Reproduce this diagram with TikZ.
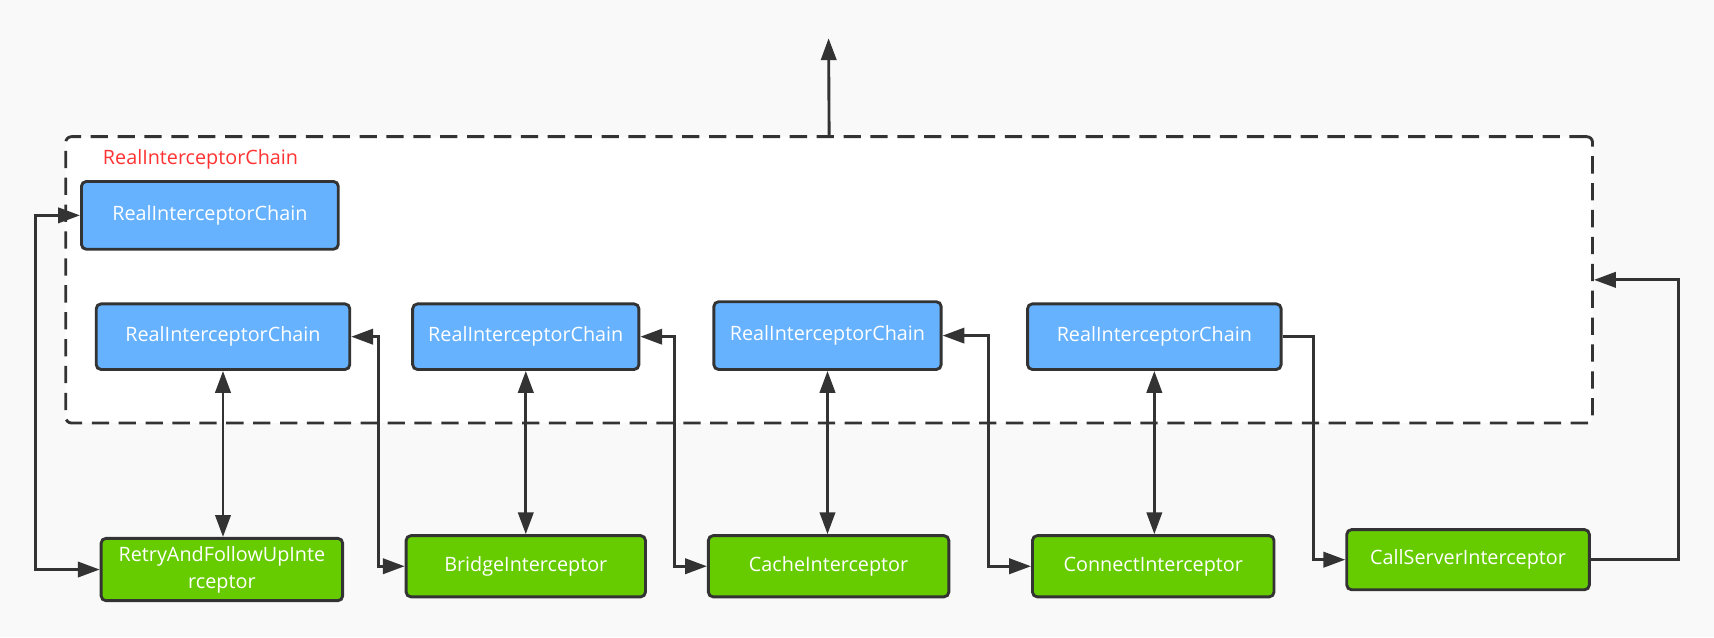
\documentclass[tikz,border=0pt]{standalone}
\usepackage{fontspec}
\setmainfont{Open Sans}
\usetikzlibrary{arrows.meta}
\definecolor{chainblue}{RGB}{102,178,255}
\definecolor{stepgreen}{RGB}{102,204,0}
\definecolor{linegray}{RGB}{51,51,51}
\definecolor{paper}{RGB}{249,249,249}
\definecolor{labelred}{RGB}{255,51,51}
\begin{document}
\begin{tikzpicture}[x=0.02cm,y=-0.02cm,
  font=\fontsize{10.3}{14}\selectfont,
  box/.style={draw=linegray,line width=1.5pt,rounded corners=2.5pt,text=white,
    minimum height=1.2cm,inner sep=2pt,align=center},
  chain/.style={box,fill=chainblue,minimum width=4.6cm},
  icpt/.style={box,fill=stepgreen,minimum width=4.4cm,minimum height=1.12cm},
  link/.style={draw=linegray,line width=1.5pt,
    >={Triangle[length=0.4cm,width=0.28cm]}}
]
%Background
\fill[paper] (0,0) rectangle (1568,583);
\useasboundingbox (0,0) rectangle (1568,583);

%Outer chain
\node[draw=linegray,fill=white,dash pattern=on 9pt off 5pt,line width=1.5pt,
  rounded corners=3pt,minimum width=27.94cm,minimum height=5.24cm
] (outer) at (758.5,256){};
\node[text=labelred,anchor=west] (outerlabel) at (88,146){RealInterceptorChain};

%Top chain
\node[chain,minimum width=4.7cm,minimum height=1.24cm] (top) at (192,197){RealInterceptorChain};

%Chain row
\node[chain,minimum width=4.64cm] (c1) at (204,308){RealInterceptorChain};
\node[chain,minimum width=4.14cm] (c2) at (481,308){RealInterceptorChain};
\node[chain,minimum width=4.16cm,minimum height=1.24cm] (c3) at (757,307){RealInterceptorChain};
\node[chain,minimum width=4.64cm] (c4) at (1056,308){RealInterceptorChain};

%Interceptor row
\node[icpt,minimum width=4.42cm,minimum height=1.14cm] (retry) at (203,521){RetryAndFollowUpInte\\rceptor};
\node[icpt,minimum width=4.38cm] (bridge) at (481,518){BridgeInterceptor};
\node[icpt] (cache) at (758,518){CacheInterceptor};
\node[icpt,minimum width=4.42cm] (connect) at (1055,518){ConnectInterceptor};
\node[icpt,minimum width=4.44cm,minimum height=1.1cm] (callserver) at (1343,512){CallServerInterceptor};

%Result
\coordinate (result) at (758,35);
\draw[link,->] (outer.north) -- (result);

%Down and up
\draw[link,<->] (c1.south) -- (c1.south |- retry.north);
\draw[link,<->] (c2.south) -- (bridge.north);
\draw[link,<->] (c3.south) -- (c3.south |- cache.north);
\draw[link,<->] (c4.south) -- (c4.south |- connect.north);

%Next chain
\draw[link,<->] (top.west) -- ++(-41,0) |- (retry.west);
\draw[link,<->] (c1.east) -- ++(25,0) |- (bridge.west);
\draw[link,<->] (c2.east) -- ++(31,0) |- (cache.west);
\draw[link,<->] (c3.east) -- ++(42,0) |- (connect.west);
\draw[link,->] (c4.east) -- ++(28,0) |- (callserver.west);
\draw[link,->] (callserver.east) -- ++(80,0) |- (outer.east);

\end{tikzpicture}
\end{document}
